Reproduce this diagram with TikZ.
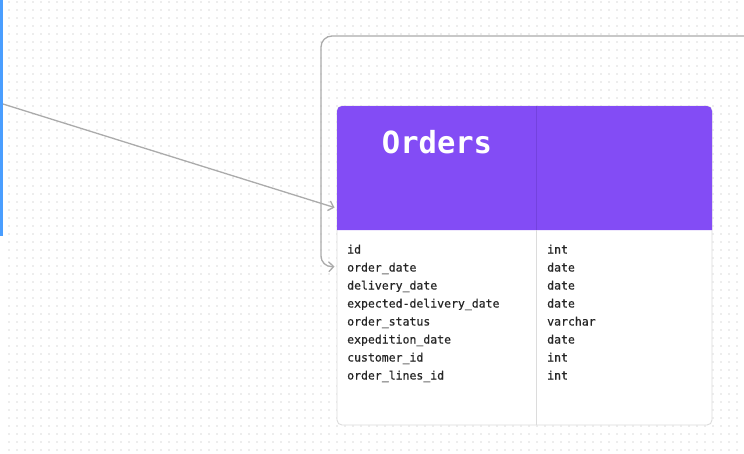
\documentclass[tikz,border=0pt]{standalone}
\usepackage{fontspec}
\setmonofont{DejaVu Sans Mono}
\newfontfamily\fieldfont[FakeBold=0.5]{DejaVu Sans Mono}
\usetikzlibrary{arrows.meta}
\definecolor{purp}{HTML}{834CF5}
\definecolor{purpline}{HTML}{7442DE}
\definecolor{dotc}{HTML}{EDEDED}
\definecolor{bord}{HTML}{DCDCDC}
\definecolor{conncol}{HTML}{ABABAB}
\definecolor{srcblue}{HTML}{4A9EFF}
\definecolor{txt}{HTML}{262626}
\tikzset{
  conn/.style={draw=conncol, line width=1.3pt, -{Straight Barb[length=5pt,width=10pt,line width=1.3pt]}},
  field/.style={anchor=base west, inner sep=0pt, font=\fieldfont\fontsize{11.5}{12}\selectfont, text=txt},
  tablebox/.style={draw=bord, line width=0.9pt, fill=white, rounded corners=5pt, minimum width=375pt, minimum height=319pt, inner sep=0pt},
}
\begin{document}
\begin{tikzpicture}[x=1pt,y=-1pt]
\useasboundingbox (0,0) rectangle (744,453);
\fill[white] (0,0) rectangle (744,453);
% dot grid
\foreach \i in {0,...,92} {\foreach \j in {0,...,56} {\fill[dotc] (8+8*\i,1+8*\j) rectangle ++(2,2);}}
% blue source box edge
\fill[white] (-10,-5) rectangle (1,234);
\draw[srcblue, line width=2.5pt] (-10,-5) rectangle (1.5,234.5);
\coordinate (src) at (3,104);
% table
\node[tablebox] (orders) at (524.5,265.5) {};
\fill[purp] (337,230) [rounded corners=5pt] -- (337,106) -- (712,106) [sharp corners] -- (712,230) -- cycle;
\draw[purpline, line width=0.8pt] (536.5,106) -- (536.5,230);
\draw[bord, line width=0.9pt] (536.5,230) -- (536.5,424.5);
\node[anchor=base, inner sep=0pt, text=white, font=\ttfamily\bfseries\fontsize{30.5}{32}\selectfont] (title) at (437,153) {Orders};
% fields
\foreach \n/\t [count=\k from 0] in {id/int, order\_date/date, delivery\_date/date, expected-delivery\_date/date, order\_status/varchar, expedition\_date/date, customer\_id/int, order\_lines\_id/int} {
  \node[field] (f\k) at (347,253.5+18*\k) {\n};
  \node[field] (t\k) at (547,253.5+18*\k) {\t};
}
% connectors
\coordinate (inA) at ([xshift=-2pt,yshift=-102pt]orders.north west);
\coordinate (inB) at ([xshift=-2pt,yshift=-161pt]orders.north west);
\coordinate (far) at (750,36);
\draw[conn] (src) -- (inA);
\draw[conn, rounded corners=11pt] (far) -- (321,36) -- (321,267) -- (inB);
\end{tikzpicture}
\end{document}
